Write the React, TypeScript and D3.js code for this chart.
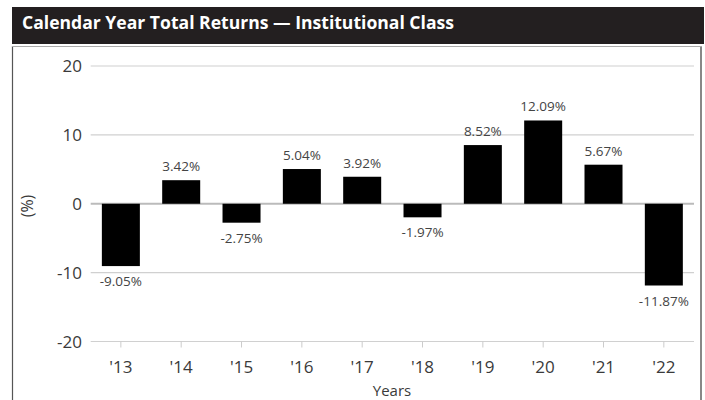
import React from "react";
import * as d3 from "d3";

const years = ["'13", "'14", "'15", "'16", "'17", "'18", "'19", "'20", "'21", "'22"];
const returns = [-9.05, 3.42, -2.75, 5.04, 3.92, -1.97, 8.52, 12.09, 5.67, -11.87];
const yTicks = [20, 10, 0, -10, -20];
const title = "Calendar Year Total Returns — Institutional Class";

export default function App() {
  const W = 705, H = 400;
  const x = d3.scaleBand<string>().domain(years).range([90.7, 694]).paddingInner(0.37).paddingOuter(0.185);
  const y = d3.scaleLinear().domain([-20, 20]).range([341.5, 66]);
  const font = "'Open Sans', 'Noto Sans', sans-serif";
  return (
    <svg width={W} height={H} style={{ position: "absolute", left: 0, top: 0, background: "#fff" }}>
      <rect x={12} y={7} width={692} height={37} fill="#231f20" />
      <text x={22} y={28.5} fill="#fff" fontFamily="'Liberation Sans Narrow', 'Open Sans', sans-serif" fontWeight="bold" fontSize={17} textLength={432} lengthAdjust="spacingAndGlyphs">{title}</text>
      <line x1={12.5} y1={46} x2={12.5} y2={H} stroke="#555" strokeWidth={1.2} />
      <line x1={701} y1={46} x2={701} y2={H} stroke="#888" strokeWidth={2} />
      <line x1={12} y1={46.5} x2={702} y2={46.5} stroke="#aaa" strokeWidth={1} />
      {yTicks.map(t => (
        <g key={t}>
          <line x1={90.7} x2={694} y1={y(t)} y2={y(t)} stroke={t === 0 ? "#bbb" : "#d0d0d0"} strokeWidth={t === 0 ? 2 : 1.2} />
          <text x={82} y={y(t)} dy="0.36em" textAnchor="end" fontFamily={font} fontSize={17} fill="#3a3a3a">{t}</text>
        </g>
      ))}
      {years.map(yr => (
        <g key={yr}>
          <line x1={x(yr)! + x.bandwidth() / 2} x2={x(yr)! + x.bandwidth() / 2} y1={y(-20)} y2={y(-20) + 6} stroke="#ccc" strokeWidth={1} />
          <text x={x(yr)! + x.bandwidth() / 2} y={373} textAnchor="middle" fontFamily={font} fontSize={17} fill="#3a3a3a">{yr}</text>
        </g>
      ))}
      {returns.map((v, i) => {
        const cx = x(years[i])! + x.bandwidth() / 2;
        const top = y(Math.max(0, v)), bot = y(Math.min(0, v));
        return (
          <g key={i}>
            <rect x={x(years[i])} y={top} width={x.bandwidth()} height={bot - top} fill="#000" />
            <text x={cx} y={v >= 0 ? top - 9 : bot + 20} textAnchor="middle" fontFamily={font} fontSize={13.5} fill="#444">{v.toFixed(2)}%</text>
          </g>
        );
      })}
      <text transform={`translate(33,206) rotate(-90)`} textAnchor="middle" fontFamily={font} fontSize={16} fill="#3a3a3a">(%)</text>
      <text x={392} y={396} textAnchor="middle" fontFamily={font} fontSize={15} fill="#3a3a3a">Years</text>
    </svg>
  );
}
